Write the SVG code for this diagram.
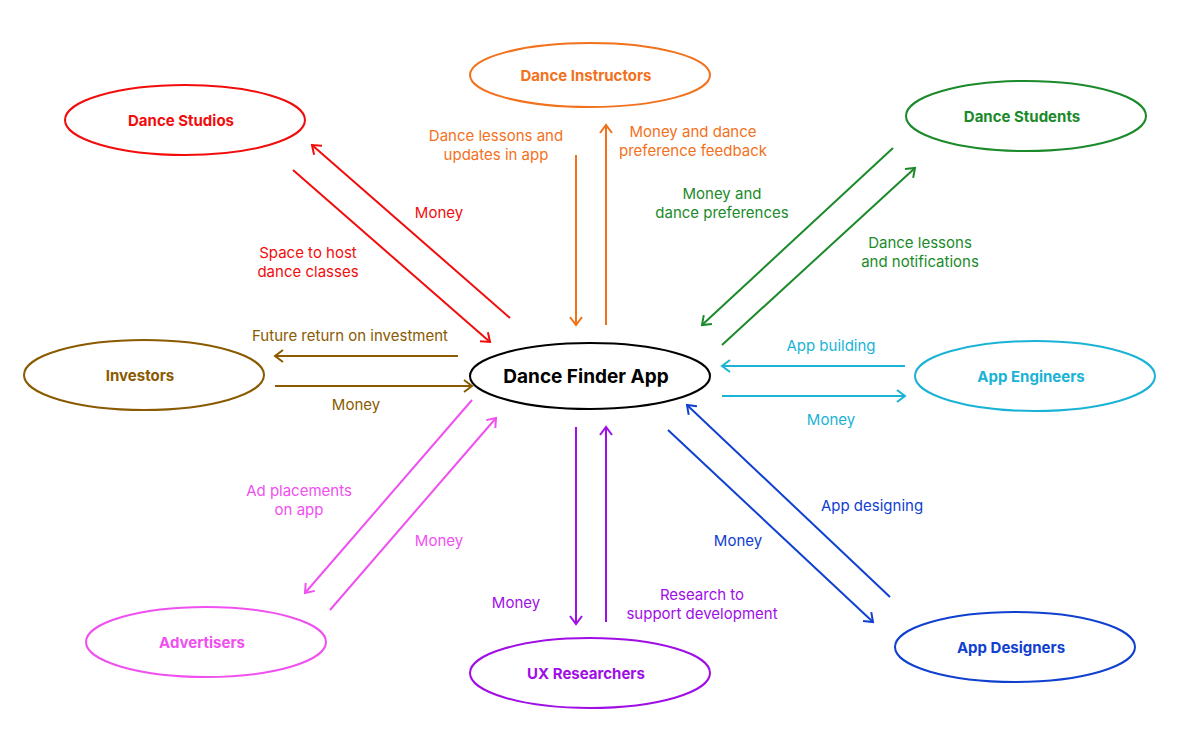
<svg xmlns="http://www.w3.org/2000/svg" width="1180" height="750" viewBox="0 0 1180 750">
<style>
text{font-family:Inter,"Liberation Sans",sans-serif;font-size:15px;text-anchor:middle}
.n{font-weight:bold}
ellipse{fill:#fff;stroke-width:2}
line{stroke-width:2;fill:none}
</style>
<defs>
<marker id="mr" markerWidth="14" markerHeight="14" refX="10" refY="7" orient="auto" markerUnits="userSpaceOnUse"><path d="M2,1 L10,7 L2,13" fill="none" stroke="#f20d0d" stroke-width="2"/></marker>
<marker id="mo" markerWidth="14" markerHeight="14" refX="10" refY="7" orient="auto" markerUnits="userSpaceOnUse"><path d="M2,1 L10,7 L2,13" fill="none" stroke="#f2711c" stroke-width="2"/></marker>
<marker id="mg" markerWidth="14" markerHeight="14" refX="10" refY="7" orient="auto" markerUnits="userSpaceOnUse"><path d="M2,1 L10,7 L2,13" fill="none" stroke="#1a8a2a" stroke-width="2"/></marker>
<marker id="mb" markerWidth="14" markerHeight="14" refX="10" refY="7" orient="auto" markerUnits="userSpaceOnUse"><path d="M2,1 L10,7 L2,13" fill="none" stroke="#8a5a00" stroke-width="2"/></marker>
<marker id="mc" markerWidth="14" markerHeight="14" refX="10" refY="7" orient="auto" markerUnits="userSpaceOnUse"><path d="M2,1 L10,7 L2,13" fill="none" stroke="#1ab3d6" stroke-width="2"/></marker>
<marker id="mp" markerWidth="14" markerHeight="14" refX="10" refY="7" orient="auto" markerUnits="userSpaceOnUse"><path d="M2,1 L10,7 L2,13" fill="none" stroke="#f050f0" stroke-width="2"/></marker>
<marker id="mu" markerWidth="14" markerHeight="14" refX="10" refY="7" orient="auto" markerUnits="userSpaceOnUse"><path d="M2,1 L10,7 L2,13" fill="none" stroke="#a00ee6" stroke-width="2"/></marker>
<marker id="md" markerWidth="14" markerHeight="14" refX="10" refY="7" orient="auto" markerUnits="userSpaceOnUse"><path d="M2,1 L10,7 L2,13" fill="none" stroke="#1040d0" stroke-width="2"/></marker>
</defs>
<rect width="1180" height="750" fill="#fff"/>
<g id="connectors">
<line x1="510" y1="318" x2="312" y2="145" stroke="#f20d0d" marker-end="url(#mr)"/>
<line x1="293" y1="170" x2="490" y2="342" stroke="#f20d0d" marker-end="url(#mr)"/>
<line x1="576" y1="155" x2="576" y2="325" stroke="#f2711c" marker-end="url(#mo)"/>
<line x1="606" y1="325" x2="606" y2="125" stroke="#f2711c" marker-end="url(#mo)"/>
<line x1="893" y1="148" x2="702" y2="325" stroke="#1a8a2a" marker-end="url(#mg)"/>
<line x1="722" y1="345" x2="915" y2="168" stroke="#1a8a2a" marker-end="url(#mg)"/>
<line x1="458" y1="356" x2="275" y2="356" stroke="#8a5a00" marker-end="url(#mb)"/>
<line x1="275" y1="386" x2="472" y2="386" stroke="#8a5a00" marker-end="url(#mb)"/>
<line x1="905" y1="366" x2="722" y2="366" stroke="#1ab3d6" marker-end="url(#mc)"/>
<line x1="722" y1="396" x2="905" y2="396" stroke="#1ab3d6" marker-end="url(#mc)"/>
<line x1="472" y1="400" x2="305" y2="593" stroke="#f050f0" marker-end="url(#mp)"/>
<line x1="330" y1="610" x2="496" y2="418" stroke="#f050f0" marker-end="url(#mp)"/>
<line x1="576" y1="427" x2="576" y2="624" stroke="#a00ee6" marker-end="url(#mu)"/>
<line x1="606" y1="622" x2="606" y2="427" stroke="#a00ee6" marker-end="url(#mu)"/>
<line x1="890" y1="597" x2="687" y2="405" stroke="#1040d0" marker-end="url(#md)"/>
<line x1="668" y1="430" x2="873" y2="622" stroke="#1040d0" marker-end="url(#md)"/>
</g>
<g id="labels">
<text x="439" y="218" fill="#f20d0d">Money</text>
<text x="308" y="258" fill="#f20d0d">Space to host</text>
<text x="308" y="277" fill="#f20d0d">dance classes</text>
<text x="496" y="141" fill="#f2711c">Dance lessons and</text>
<text x="496" y="160" fill="#f2711c">updates in app</text>
<text x="693" y="137" fill="#f2711c">Money and dance</text>
<text x="693" y="156" fill="#f2711c">preference feedback</text>
<text x="722" y="199" fill="#1a8a2a">Money and</text>
<text x="722" y="218" fill="#1a8a2a">dance preferences</text>
<text x="920" y="248" fill="#1a8a2a">Dance lessons</text>
<text x="920" y="267" fill="#1a8a2a">and notifications</text>
<text x="350" y="341" fill="#8a5a00">Future return on investment</text>
<text x="356" y="410" fill="#8a5a00">Money</text>
<text x="831" y="351" fill="#1ab3d6">App building</text>
<text x="831" y="425" fill="#1ab3d6">Money</text>
<text x="299" y="496" fill="#f050f0">Ad placements</text>
<text x="299" y="515" fill="#f050f0">on app</text>
<text x="439" y="546" fill="#f050f0">Money</text>
<text x="516" y="608" fill="#a00ee6">Money</text>
<text x="702" y="600" fill="#a00ee6">Research to</text>
<text x="702" y="619" fill="#a00ee6">support development</text>
<text x="872" y="511" fill="#1040d0">App designing</text>
<text x="738" y="546" fill="#1040d0">Money</text>
</g>
<g id="studios"><ellipse cx="185" cy="120" rx="120" ry="35" stroke="#f20d0d"/><text class="n" x="181" y="126" fill="#f20d0d">Dance Studios</text></g>
<g id="instructors"><ellipse cx="590" cy="75" rx="120" ry="32" stroke="#f2711c"/><text class="n" x="586" y="81" fill="#f2711c">Dance Instructors</text></g>
<g id="students"><ellipse cx="1026" cy="116" rx="120" ry="35" stroke="#1a8a2a"/><text class="n" x="1022" y="122" fill="#1a8a2a">Dance Students</text></g>
<g id="investors"><ellipse cx="144" cy="375" rx="120" ry="35" stroke="#8a5a00"/><text class="n" x="140" y="381" fill="#8a5a00">Investors</text></g>
<g id="app"><ellipse cx="590" cy="376" rx="120" ry="33" stroke="#000"/><text class="n" x="586" y="383" fill="#000" style="font-size:19px">Dance Finder App</text></g>
<g id="engineers"><ellipse cx="1035" cy="376" rx="120" ry="35" stroke="#1ab3d6"/><text class="n" x="1031" y="382" fill="#1ab3d6">App Engineers</text></g>
<g id="advertisers"><ellipse cx="206" cy="642" rx="120" ry="35" stroke="#f050f0"/><text class="n" x="202" y="648" fill="#f050f0">Advertisers</text></g>
<g id="ux"><ellipse cx="590" cy="673" rx="120" ry="35" stroke="#a00ee6"/><text class="n" x="586" y="679" fill="#a00ee6">UX Researchers</text></g>
<g id="designers"><ellipse cx="1015" cy="647" rx="120" ry="35" stroke="#1040d0"/><text class="n" x="1011" y="653" fill="#1040d0">App Designers</text></g>
</svg>
